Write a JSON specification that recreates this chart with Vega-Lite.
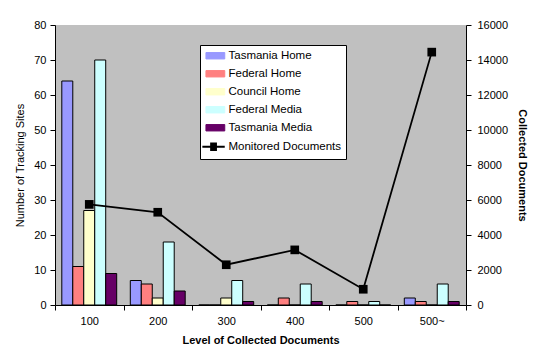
{
  "$schema": "https://vega.github.io/schema/vega-lite/v6.json",
  "width": 411,
  "height": 280,
  "autosize": {"type": "none"},
  "padding": {"left": 55, "top": 25, "right": 76, "bottom": 59},
  "background": "white",
  "config": {
    "font": "Liberation Sans",
    "view": {"fill": "#C0C0C0", "stroke": null},
    "axis": {
      "labelFont": "Liberation Sans", "labelFontSize": 11, "labelColor": "#000",
      "titleFont": "Liberation Sans", "titleFontSize": 11, "titleColor": "#000",
      "domainColor": "#000", "tickColor": "#000", "grid": false, "tickSize": 5
    }
  },
  "datasets": {
    "sites": [
      {"level": "100", "series": "Tasmania Home", "value": 64},
      {"level": "100", "series": "Federal Home", "value": 11},
      {"level": "100", "series": "Council Home", "value": 27},
      {"level": "100", "series": "Federal Media", "value": 70},
      {"level": "100", "series": "Tasmania Media", "value": 9},
      {"level": "200", "series": "Tasmania Home", "value": 7},
      {"level": "200", "series": "Federal Home", "value": 6},
      {"level": "200", "series": "Council Home", "value": 2},
      {"level": "200", "series": "Federal Media", "value": 18},
      {"level": "200", "series": "Tasmania Media", "value": 4},
      {"level": "300", "series": "Tasmania Home", "value": 0},
      {"level": "300", "series": "Federal Home", "value": 0},
      {"level": "300", "series": "Council Home", "value": 2},
      {"level": "300", "series": "Federal Media", "value": 7},
      {"level": "300", "series": "Tasmania Media", "value": 1},
      {"level": "400", "series": "Tasmania Home", "value": 0},
      {"level": "400", "series": "Federal Home", "value": 2},
      {"level": "400", "series": "Council Home", "value": 0},
      {"level": "400", "series": "Federal Media", "value": 6},
      {"level": "400", "series": "Tasmania Media", "value": 1},
      {"level": "500", "series": "Tasmania Home", "value": 0},
      {"level": "500", "series": "Federal Home", "value": 1},
      {"level": "500", "series": "Council Home", "value": 0},
      {"level": "500", "series": "Federal Media", "value": 1},
      {"level": "500", "series": "Tasmania Media", "value": 0},
      {"level": "500~", "series": "Tasmania Home", "value": 2},
      {"level": "500~", "series": "Federal Home", "value": 1},
      {"level": "500~", "series": "Council Home", "value": 0},
      {"level": "500~", "series": "Federal Media", "value": 6},
      {"level": "500~", "series": "Tasmania Media", "value": 1}
    ],
    "docs": [
      {"level": "100", "series": "Monitored Documents", "docs": 5750},
      {"level": "200", "series": "Monitored Documents", "docs": 5300},
      {"level": "300", "series": "Monitored Documents", "docs": 2300},
      {"level": "400", "series": "Monitored Documents", "docs": 3150},
      {"level": "500", "series": "Monitored Documents", "docs": 900},
      {"level": "500~", "series": "Monitored Documents", "docs": 14450}
    ]
  },
  "resolve": {"scale": {"y": "independent"}},
  "layer": [
    {
      "data": {"name": "sites"},
      "mark": {"type": "bar", "stroke": "#000", "strokeWidth": 1, "strokeOpacity": 1},
      "encoding": {
        "x": {
          "field": "level", "type": "nominal", "sort": null,
          "scale": {"paddingInner": 0, "paddingOuter": 0},
          "axis": {"labelAngle": 0, "tickBand": "extent", "labelPadding": 5, "tickSize": 5,
                   "title": "Level of Collected Documents", "titleFontWeight": "bold", "titlePadding": 8}
        },
        "xOffset": {
          "field": "series", "type": "nominal",
          "sort": ["Tasmania Home", "Federal Home", "Council Home", "Federal Media", "Tasmania Media"],
          "scale": {"paddingInner": 0, "paddingOuter": 0.62}
        },
        "y": {
          "field": "value", "type": "quantitative",
          "scale": {"domain": [0, 80], "nice": false},
          "axis": {"values": [0, 10, 20, 30, 40, 50, 60, 70, 80], "title": "Number of Tracking Sites",
                   "titleFontWeight": "normal", "labelPadding": 4, "titlePadding": 8}
        },
        "stroke": {"value": "#000"},
        "color": {
          "field": "series", "type": "nominal",
          "scale": {
            "domain": ["Tasmania Home", "Federal Home", "Council Home", "Federal Media", "Tasmania Media", "Monitored Documents"],
            "range": ["#9999FF", "#FF8080", "#FFFFCC", "#CCFFFF", "#660066", "#000000"]
          },
          "legend": {
            "title": null,
            "orient": "none",
            "legendX": 145,
            "legendY": 20,
            "fillColor": "#FFFFFF",
            "strokeColor": "#000000",
            "padding": 5,
            "symbolSize": 256,
            "rowPadding": 5,
            "labelOffset": 12,
            "labelFont": "Liberation Sans",
            "labelFontSize": 11.5,
            "labelColor": "#000",
            "symbolStrokeColor": "#000",
            "symbolStrokeWidth": 1,
            "encode": {
              "symbols": {
                "update": {
                  "shape": {"signal": "datum.value === 'Monitored Documents' ? 'M-1.05,0H1.75M0.05,-0.4H0.65V0.4H0.05Z' : 'M-0.6,-0.4H1.75V0.4H-0.6Z'"},
                  "strokeWidth": {"signal": "datum.value === 'Monitored Documents' ? 2 : 1"},
                  "stroke": {"value": "#000"},
                  "strokeOpacity": {"value": 1}
                }
              }
            }
          }
        }
      }
    },
    {
      "data": {"name": "docs"},
      "mark": {"type": "line", "strokeWidth": 1.8, "point": {"shape": "square", "size": 75, "filled": true, "color": "#000"}},
      "encoding": {
        "x": {"field": "level", "type": "nominal", "sort": null},
        "y": {
          "field": "docs", "type": "quantitative",
          "scale": {"domain": [0, 16000], "nice": false},
          "axis": {"orient": "right", "format": "d", "values": [0, 2000, 4000, 6000, 8000, 10000, 12000, 14000, 16000],
                   "title": "Collected Documents", "titleFontWeight": "bold", "labelPadding": 6, "titlePadding": 9}
        },
        "color": {"field": "series", "type": "nominal"}
      }
    }
  ]
}
